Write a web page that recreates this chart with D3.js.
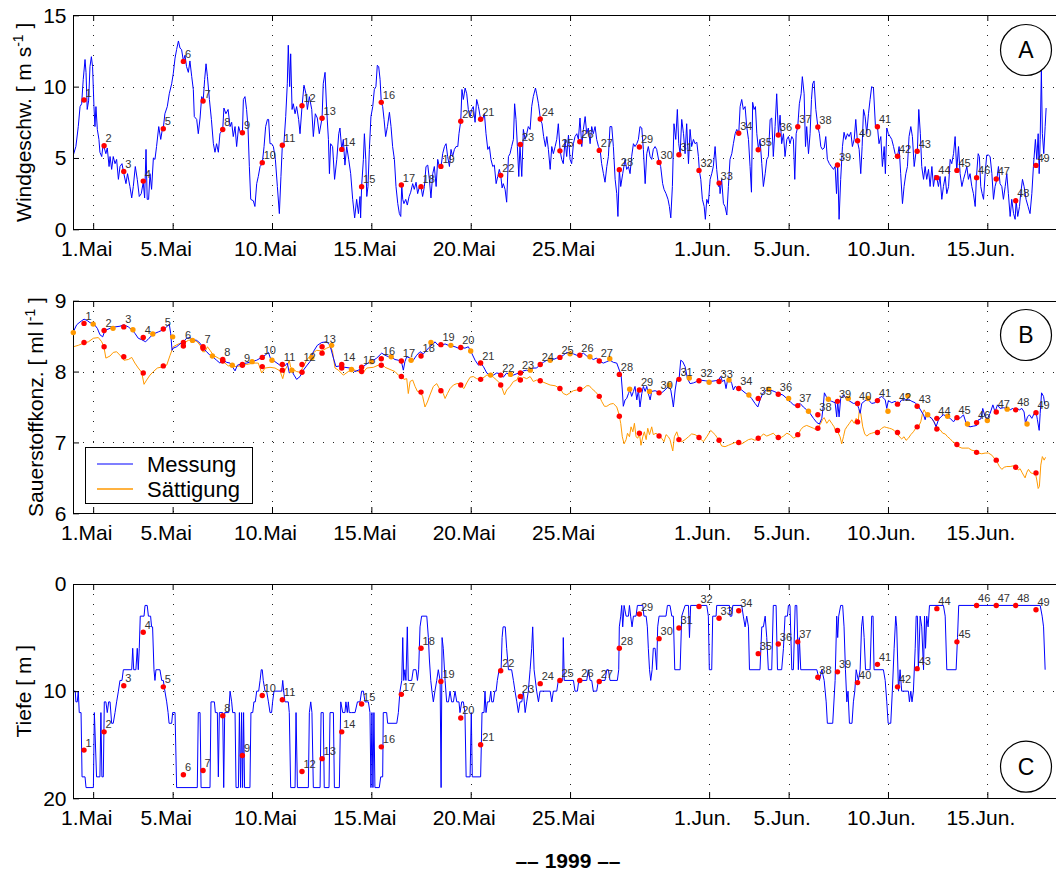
<!DOCTYPE html>
<html><head><meta charset="utf-8">
<script src="https://cdn.jsdelivr.net/npm/d3@7"></script>
<style>body{margin:0;background:#fff;} svg{display:block;}</style>
</head><body><svg id="chart" width="1056" height="872"></svg>
<script>
// ---------- DATA (time in days since 30 Apr 1999 00:00) ----------
const xTickDays = [1,5,10,15,20,25,32,36,41,46];
const xTickLabels = ["1.Mai","5.Mai","10.Mai","15.Mai","20.Mai","25.Mai","1.Jun.","5.Jun.","10.Jun.","15.Jun."];
const yTicksA = [0,5,10,15];
const yTicksB = [6,7,8,9];
const yTicksC = [0,10,20];
const seriesNames = ["Messung","Sättigung"];

const stationIds = [1,2,3,4,5,6,7,8,9,10,11,12,13,14,15,16,17,18,19,20,21,22,23,24,25,26,27,28,29,30,31,32,33,34,35,36,37,38,39,40,41,42,43,44,45,46,47,48,49];
const stationDays = [0.54,1.55,2.54,3.52,4.53,5.54,6.53,7.52,8.51,9.51,10.52,11.51,12.52,13.51,14.51,15.50,16.51,17.50,18.50,19.50,20.50,21.51,22.50,23.50,24.49,25.49,26.47,27.48,28.49,29.48,30.48,31.49,32.50,33.49,34.47,35.48,36.46,37.47,38.46,39.47,40.47,41.48,42.47,43.46,44.47,45.46,46.45,47.43,48.45];
const stationWind = [9.06,5.86,4.06,3.38,7.05,11.77,8.99,7.0,6.77,4.67,5.89,8.66,7.78,5.6,2.99,8.9,3.1,2.99,4.41,7.57,7.71,3.78,5.94,7.73,5.5,6.14,5.53,4.18,5.77,4.69,5.23,4.13,3.24,6.73,5.58,6.61,7.19,7.17,4.51,6.21,7.19,5.12,5.47,3.62,4.13,3.62,3.53,2.0,4.48];
const stationO2Mess = [8.68,8.58,8.63,8.48,8.6,8.41,8.35,8.17,8.09,8.2,8.1,8.1,8.35,8.1,8.06,8.18,8.15,8.22,8.38,8.34,8.12,7.95,7.98,8.1,8.2,8.23,8.15,7.96,7.74,7.7,7.89,7.87,7.86,7.76,7.62,7.68,7.52,7.39,7.58,7.55,7.59,7.54,7.51,7.34,7.35,7.28,7.43,7.46,7.42];
const stationO2Sat = [8.41,8.35,8.21,7.98,8.08,8.36,8.33,8.15,8.1,8.07,8.02,7.99,8.26,8.05,8.0,8.09,7.93,7.71,7.73,7.81,7.89,7.81,7.88,7.87,7.76,7.75,7.65,7.37,7.13,7.09,7.04,7.07,7.03,7.0,7.06,7.07,7.11,7.2,7.17,7.29,7.14,7.14,7.22,7.19,6.97,6.86,6.75,6.65,6.57];
const stationDepth = [15.5,13.8,9.5,4.5,9.6,17.8,17.4,12.3,16.0,10.4,10.8,17.5,16.3,13.8,11.2,15.2,10.3,6.0,9.1,12.5,15.0,8.1,10.5,9.3,9.0,9.0,9.1,6.0,2.8,5.1,4.1,2.1,3.2,2.5,6.5,5.6,5.4,8.7,8.2,9.2,7.5,9.6,7.9,2.3,5.4,2.0,2.0,2.0,2.4];

const castDays = [0,1,2,3,4,5,6,7,8,9,10,11,12,13,14,15,16,17,18,19,20,21,22,23,24,25,26,27,28,29,30,31,32,33,34,35,36,37,38,39,40,41,42,43,44,45,46,47,48];
const castO2 = [8.55,8.67,8.61,8.59,8.53,8.49,8.44,8.22,8.09,8.14,8.16,8.02,8.2,8.37,8.03,8.14,8.21,8.16,8.41,8.37,8.29,7.95,7.96,8.02,8.16,8.25,8.21,8.18,7.75,7.72,7.81,7.91,7.85,7.88,7.67,7.75,7.62,7.44,7.61,7.62,7.62,7.44,7.66,7.39,7.37,7.26,7.31,7.47,7.26];

const wind = [[0,5.2],[0.13,5.8],[0.25,7.2],[0.34,8.6],[0.42,8.8],[0.5,10.5],[0.59,11.9],[0.64,11],[0.7,8.4],[0.77,9],[0.84,11.4],[0.91,12.1],[0.97,11.4],[1.04,8.6],[1.09,7.2],[1.14,8.6],[1.21,7],[1.29,6.3],[1.34,5.4],[1.43,5.1],[1.48,5.7],[1.54,5.8],[1.64,5.3],[1.71,5.7],[1.8,4.4],[1.85,5.1],[1.93,4.2],[2.01,5.1],[2.1,4.6],[2.18,4.9],[2.27,3.5],[2.35,4.4],[2.45,4.6],[2.53,4],[2.65,3.2],[2.73,3.9],[2.85,3],[2.94,2.2],[3.02,3],[3.12,4.4],[3.22,3.5],[3.32,2.3],[3.42,2.5],[3.52,3.3],[3.59,2.2],[3.66,5.6],[3.72,2.1],[3.79,2.1],[3.86,3.9],[3.94,2.8],[4.03,5],[4.11,4.9],[4.19,5.8],[4.3,7.2],[4.4,6.3],[4.48,7],[4.53,7.1],[4.61,8.1],[4.73,8.6],[4.83,9.5],[4.95,10.2],[5.03,10.9],[5.12,12],[5.2,12.6],[5.29,13.2],[5.37,12.7],[5.45,12.6],[5.54,11.8],[5.62,12.2],[5.7,11.4],[5.79,11],[5.87,11.8],[5.96,10.7],[6.04,9.8],[6.09,7.9],[6.21,7.7],[6.29,6.7],[6.38,7.8],[6.46,9.3],[6.54,9.1],[6.61,10.5],[6.68,11.6],[6.75,10.7],[6.85,9.1],[6.95,7.7],[7.05,6],[7.13,5.4],[7.21,6],[7.3,5.4],[7.38,6.7],[7.52,7],[7.58,8.5],[7.68,8.1],[7.79,8.4],[7.89,7.2],[7.97,7.5],[8.05,6.5],[8.14,7.2],[8.22,5.8],[8.32,7.2],[8.42,6.7],[8.51,6.7],[8.56,9.1],[8.64,9.3],[8.72,8.4],[8.79,7.2],[8.86,4.4],[8.93,2.1],[9.06,2],[9.14,1.6],[9.23,3.2],[9.31,3.7],[9.4,4.4],[9.51,4.6],[9.6,5.8],[9.68,7.2],[9.77,7.7],[9.83,7.7],[9.9,6],[9.98,6],[10.07,5.8],[10.17,4.9],[10.27,3],[10.37,1.1],[10.45,3.7],[10.52,5.9],[10.6,6],[10.69,7.9],[10.77,10.2],[10.82,12.9],[10.89,10],[10.94,12.3],[11.01,8.4],[11.07,8.8],[11.16,8.1],[11.24,8.6],[11.34,7.7],[11.41,6.7],[11.51,8.6],[11.61,10.1],[11.71,9.5],[11.78,8.4],[11.88,9.3],[12,8.4],[12.08,6.5],[12.18,8.1],[12.28,7.8],[12.38,6.7],[12.52,7.8],[12.58,10.2],[12.67,11],[12.75,8.4],[12.84,6.3],[12.89,3.9],[12.95,6],[13.05,5.8],[13.15,3.5],[13.26,4.9],[13.36,6.7],[13.42,7.1],[13.51,5.6],[13.59,6.3],[13.67,4.5],[13.76,5.8],[13.86,4.9],[13.96,3.9],[14.06,2.1],[14.16,0.8],[14.26,2.1],[14.35,1.1],[14.43,2.3],[14.46,0.8],[14.51,3],[14.6,4.9],[14.65,6.7],[14.72,4.9],[14.77,2.3],[14.83,3],[14.9,5.6],[14.98,7.9],[15.07,8.6],[15.15,9.8],[15.23,10],[15.3,11.5],[15.37,11.4],[15.44,10.5],[15.5,8.9],[15.57,8.6],[15.64,7.7],[15.72,6.5],[15.81,7.2],[15.91,8.2],[15.99,7.2],[16.07,5.8],[16.16,4.9],[16.24,3],[16.33,1.8],[16.41,1.1],[16.48,0.9],[16.53,3.1],[16.58,2.1],[16.64,1.8],[16.73,2.1],[16.81,1.7],[16.9,2.3],[16.98,2.6],[17.08,3.2],[17.16,2.8],[17.25,3.3],[17.33,2.5],[17.42,3],[17.5,3],[17.58,2.3],[17.67,3],[17.75,4.4],[17.84,4.5],[17.92,3.5],[18,2.2],[18.09,3.9],[18.17,4.4],[18.26,3],[18.34,4.9],[18.42,4.4],[18.51,4.4],[18.59,5.3],[18.68,5.8],[18.76,6],[18.84,5.1],[18.93,4.4],[19.01,5.6],[19.09,5.1],[19.18,5.6],[19.26,5.8],[19.35,5.8],[19.41,6.7],[19.5,7.6],[19.56,9.8],[19.63,9.1],[19.72,9.9],[19.8,9.5],[19.88,8.4],[19.97,7.9],[20.05,8.4],[20.13,8.6],[20.22,7.5],[20.3,9.1],[20.39,8.6],[20.5,7.7],[20.6,7.7],[20.69,8.1],[20.77,6.7],[20.86,5.6],[20.94,5.8],[21.02,4.9],[21.11,4.4],[21.19,4.5],[21.28,3.2],[21.36,3.7],[21.44,4.2],[21.51,3.8],[21.58,2.9],[21.64,3.2],[21.73,2.8],[21.81,1.9],[21.9,5.1],[21.98,5.3],[22.06,5.8],[22.15,6.3],[22.21,8.8],[22.28,7.7],[22.35,5.8],[22.42,3.7],[22.48,5.9],[22.57,3.7],[22.65,7],[22.74,6.3],[22.82,6.7],[22.9,7.2],[22.99,7],[23.07,8.6],[23.15,9.3],[23.26,9.9],[23.32,9.5],[23.41,8.8],[23.51,7.7],[23.59,7.4],[23.67,6.5],[23.76,5.8],[23.83,6.5],[23.91,5.6],[24,4.2],[24.08,5.8],[24.16,5.3],[24.25,5.8],[24.33,6.3],[24.41,7.4],[24.5,5.5],[24.58,4.9],[24.66,4.6],[24.75,6.3],[24.83,5.1],[24.92,6.6],[25,4.9],[25.08,4.6],[25.17,6],[25.25,6.5],[25.34,6.7],[25.42,6.3],[25.5,7.8],[25.59,5.8],[25.67,7],[25.76,7.9],[25.84,6.7],[25.92,7.1],[26.01,6],[26.09,7.2],[26.17,6.7],[26.26,7.2],[26.34,6.3],[26.43,5.8],[26.51,5.6],[26.59,4.6],[26.68,3.9],[26.76,3.3],[26.85,4.4],[26.93,5.1],[27.01,7.2],[27.1,7.2],[27.18,5.8],[27.27,3.5],[27.35,2.5],[27.41,0.9],[27.48,4.2],[27.55,3],[27.65,3.9],[27.77,4.9],[27.85,4.2],[27.94,4.4],[28.02,3.9],[28.1,5.1],[28.19,6],[28.27,5.8],[28.36,6],[28.44,6.3],[28.52,7.2],[28.61,7.1],[28.69,5.6],[28.78,3.2],[28.86,5.3],[28.94,5.8],[29.03,5.1],[29.11,4.9],[29.19,5.6],[29.28,5.8],[29.36,5.6],[29.48,4.7],[29.56,4.4],[29.66,3.2],[29.73,2.8],[29.83,2.5],[29.93,2.1],[30,1.6],[30.07,0.8],[30.15,3],[30.23,7.4],[30.32,6.3],[30.4,8.4],[30.47,6],[30.54,5.3],[30.62,7.7],[30.71,6.7],[30.79,5.3],[30.87,7.4],[30.96,4.6],[31.04,7],[31.12,5.8],[31.21,6.3],[31.29,6],[31.38,6.1],[31.46,5.1],[31.51,4.1],[31.58,3.5],[31.66,2.1],[31.75,1.6],[31.81,0.7],[31.88,2.1],[31.96,1.8],[32.05,3.5],[32.13,3.9],[32.21,4.4],[32.3,5.8],[32.38,4.2],[32.47,3],[32.52,3.2],[32.55,2.5],[32.63,3.5],[32.72,1.8],[32.8,1.6],[32.89,1],[32.97,3],[33.05,4.9],[33.14,5.3],[33.22,6],[33.31,6.7],[33.39,7],[33.49,6.7],[33.56,8.6],[33.64,9.1],[33.72,8.4],[33.81,8.6],[33.89,7.2],[33.98,6.3],[34.06,4.4],[34.13,2.6],[34.19,8.9],[34.26,8.4],[34.33,8.6],[34.4,6.7],[34.48,5.6],[34.56,6.3],[34.65,4.6],[34.73,3],[34.82,3.9],[34.9,4.9],[34.98,5.1],[35.07,7.7],[35.15,7.8],[35.23,5.1],[35.32,7.2],[35.4,9.5],[35.49,6.6],[35.57,8],[35.65,6],[35.74,6.7],[35.82,5.1],[35.91,6.3],[35.99,6.5],[36.07,6],[36.16,6.5],[36.24,6.3],[36.31,3.5],[36.38,6.7],[36.46,7.2],[36.54,8.8],[36.63,9.5],[36.69,10.7],[36.78,9.5],[36.85,5.8],[36.91,7.2],[37,5.3],[37.08,6.7],[37.15,9.1],[37.21,10.2],[37.28,10.4],[37.37,8.4],[37.47,7.2],[37.55,6.7],[37.62,5.8],[37.7,5.6],[37.79,5.7],[37.87,6.5],[37.95,4.9],[38.05,4.6],[38.15,4.4],[38.26,4.2],[38.34,4.4],[38.41,2.5],[38.47,4.5],[38.54,0.7],[38.62,3.5],[38.71,5.8],[38.79,6.8],[38.87,6.3],[38.96,6.7],[39.04,6.5],[39.13,6.8],[39.21,5.8],[39.3,6.3],[39.38,7.7],[39.46,6.2],[39.55,5.6],[39.63,3.9],[39.7,5.8],[39.77,8.4],[39.85,7.9],[39.93,6.7],[40.02,8.1],[40.1,9.1],[40.18,10],[40.27,9.9],[40.37,7.2],[40.47,7.2],[40.55,6],[40.64,6.5],[40.72,4.4],[40.81,5.8],[40.87,3.9],[40.94,7.1],[41.02,6.7],[41.11,6.5],[41.19,6.3],[41.28,5.8],[41.36,5.3],[41.48,5.1],[41.56,5.8],[41.64,3.9],[41.73,1.8],[41.81,3],[41.9,3.9],[41.98,4.4],[42.06,6.5],[42.15,7.2],[42.23,6.5],[42.32,4.4],[42.4,5.3],[42.48,5.5],[42.55,8.4],[42.63,6.7],[42.7,4.4],[42.79,3.5],[42.87,4.4],[42.95,3.5],[43.04,4.2],[43.12,3],[43.21,4.4],[43.29,3],[43.37,3.8],[43.46,3.6],[43.54,3],[43.62,3.7],[43.71,2.1],[43.79,3],[43.88,3.7],[43.96,2.5],[44.05,3],[44.13,4.9],[44.21,4.6],[44.3,5.3],[44.38,6.5],[44.46,4.1],[44.55,5.8],[44.63,3.9],[44.72,3],[44.8,3.5],[44.88,3.9],[44.97,4.4],[45.05,3.5],[45.13,3.9],[45.22,3],[45.3,2.5],[45.39,1.6],[45.45,3.6],[45.54,5.3],[45.6,5.1],[45.67,3],[45.74,2.5],[45.81,2.1],[45.89,3.9],[45.97,5.2],[46.06,5.2],[46.14,5.1],[46.23,3.9],[46.31,2.1],[46.39,3],[46.48,3.5],[46.56,4.4],[46.64,3.2],[46.73,3],[46.81,2.1],[46.9,3],[46.98,3.9],[47.06,2.5],[47.15,0.9],[47.23,2.1],[47.32,1.1],[47.4,0.7],[47.45,2],[47.53,0.9],[47.62,1.6],[47.68,2.5],[47.77,3.5],[47.85,3],[47.95,2.1],[48.05,1.6],[48.15,1.1],[48.24,2.5],[48.32,4.4],[48.42,6.3],[48.49,4.9],[48.56,6.7],[48.61,3.9],[48.66,6.3],[48.72,11.2],[48.77,6.7],[48.84,5.3],[48.91,7.2],[48.96,8.5]];

const o2Mess = [[0,8.56],[0.17,8.66],[0.34,8.7],[0.54,8.74],[0.7,8.72],[0.84,8.69],[1.04,8.67],[1.21,8.61],[1.34,8.52],[1.48,8.49],[1.59,8.58],[1.85,8.61],[2.1,8.63],[2.35,8.64],[2.55,8.66],[2.77,8.63],[2.94,8.59],[3.1,8.54],[3.27,8.47],[3.44,8.45],[3.64,8.42],[3.81,8.47],[4.03,8.53],[4.28,8.56],[4.53,8.59],[4.7,8.63],[4.83,8.67],[4.9,8.54],[4.97,8.3],[5.03,8.33],[5.2,8.35],[5.37,8.39],[5.54,8.42],[5.7,8.47],[5.87,8.48],[6.04,8.45],[6.21,8.44],[6.38,8.4],[6.54,8.33],[6.71,8.28],[6.88,8.23],[7.05,8.2],[7.21,8.16],[7.38,8.12],[7.55,8.16],[7.72,8.13],[7.89,8.12],[8.05,8.05],[8.14,8.01],[8.26,8.09],[8.47,8.11],[8.72,8.12],[8.98,8.14],[9.23,8.16],[9.48,8.2],[9.65,8.23],[9.82,8.27],[9.93,8.18],[10.15,8.14],[10.4,8.09],[10.54,8.12],[10.65,8.08],[10.77,8.12],[10.87,7.98],[10.99,8.01],[11.11,7.95],[11.24,7.89],[11.41,7.93],[11.58,8.02],[11.74,8.08],[11.91,8.14],[12.08,8.28],[12.28,8.37],[12.5,8.41],[12.75,8.42],[12.92,8.37],[13.09,8.19],[13.22,8.07],[13.42,8.08],[13.67,8.06],[13.93,8.05],[14.18,8],[14.43,8.03],[14.68,8.09],[14.93,8.14],[15.1,8.16],[15.27,8.19],[15.52,8.26],[15.69,8.23],[15.86,8.21],[16.02,8.2],[16.19,8.17],[16.36,8.16],[16.53,8.12],[16.61,8.02],[16.69,8.14],[16.78,8.21],[16.95,8.19],[17.11,8.16],[17.28,8.23],[17.45,8.28],[17.62,8.25],[17.75,8.29],[17.87,8.33],[17.99,8.36],[18.12,8.39],[18.2,8.42],[18.37,8.37],[18.54,8.37],[18.71,8.39],[18.88,8.37],[19.04,8.36],[19.21,8.35],[19.38,8.33],[19.55,8.34],[19.71,8.33],[19.88,8.35],[20.05,8.26],[20.22,8.16],[20.39,8.09],[20.5,8.12],[20.64,8.07],[20.81,7.98],[20.97,7.95],[21.14,7.95],[21.31,7.98],[21.48,7.97],[21.64,7.92],[21.81,7.98],[21.98,7.95],[22.15,7.95],[22.32,7.97],[22.48,7.98],[22.65,8.01],[22.82,8.02],[22.99,8],[23.15,8.05],[23.32,8.05],[23.49,8.1],[23.66,8.13],[23.83,8.16],[24,8.16],[24.16,8.17],[24.33,8.19],[24.5,8.2],[24.66,8.23],[24.83,8.27],[25,8.26],[25.17,8.25],[25.34,8.23],[25.5,8.23],[25.67,8.26],[25.84,8.22],[26.01,8.2],[26.17,8.17],[26.34,8.19],[26.51,8.14],[26.68,8.12],[26.85,8.14],[27.01,8.16],[27.18,8.13],[27.35,8.12],[27.48,8.02],[27.57,7.95],[27.63,7.74],[27.68,7.51],[27.77,7.6],[27.85,7.62],[27.94,7.69],[28.02,7.74],[28.1,7.65],[28.19,7.72],[28.27,7.79],[28.36,7.6],[28.44,7.74],[28.52,7.5],[28.61,7.69],[28.69,7.79],[28.78,7.72],[28.86,7.79],[28.94,7.69],[29.03,7.6],[29.11,7.72],[29.28,7.73],[29.45,7.71],[29.61,7.7],[29.78,7.74],[29.95,7.79],[30.07,7.74],[30.15,7.6],[30.2,7.5],[30.29,7.74],[30.37,7.88],[30.49,7.9],[30.57,8.16],[30.67,8.14],[30.79,8.07],[30.91,7.9],[31.04,7.83],[31.21,7.84],[31.38,7.86],[31.54,7.88],[31.8,7.87],[32.05,7.86],[32.3,7.87],[32.47,7.88],[32.58,7.93],[32.67,7.86],[32.77,7.88],[32.85,7.76],[32.94,7.9],[33.05,7.88],[33.14,7.83],[33.22,7.74],[33.31,7.79],[33.47,7.76],[33.64,7.74],[33.81,7.7],[33.98,7.67],[34.14,7.62],[34.31,7.55],[34.45,7.5],[34.56,7.6],[34.7,7.69],[34.87,7.74],[35.07,7.74],[35.27,7.72],[35.49,7.69],[35.71,7.67],[35.91,7.62],[36.07,7.58],[36.24,7.53],[36.41,7.52],[36.58,7.55],[36.74,7.5],[36.91,7.46],[37.08,7.41],[37.25,7.34],[37.42,7.28],[37.55,7.26],[37.67,7.34],[37.75,7.53],[37.8,7.7],[37.89,7.65],[38,7.6],[38.17,7.58],[38.34,7.56],[38.42,7.36],[38.47,7.58],[38.54,7.36],[38.62,7.62],[38.76,7.67],[38.93,7.61],[39.09,7.58],[39.26,7.55],[39.43,7.56],[39.53,7.48],[39.6,7.41],[39.68,7.55],[39.85,7.59],[40.02,7.6],[40.18,7.55],[40.35,7.56],[40.52,7.62],[40.69,7.65],[40.86,7.6],[40.94,7.48],[41.02,7.59],[41.19,7.56],[41.36,7.58],[41.53,7.54],[41.69,7.6],[41.86,7.6],[42.03,7.61],[42.2,7.58],[42.37,7.56],[42.53,7.51],[42.7,7.43],[42.79,7.39],[42.87,7.32],[42.95,7.41],[43.09,7.36],[43.2,7.34],[43.32,7.29],[43.42,7.22],[43.54,7.32],[43.66,7.36],[43.79,7.39],[43.96,7.37],[44.13,7.34],[44.3,7.29],[44.46,7.36],[44.63,7.34],[44.8,7.39],[44.97,7.24],[45.13,7.22],[45.3,7.23],[45.47,7.24],[45.55,7.32],[45.67,7.33],[45.77,7.48],[45.89,7.36],[46.01,7.34],[46.14,7.41],[46.28,7.53],[46.39,7.43],[46.51,7.53],[46.64,7.48],[46.81,7.49],[46.98,7.48],[47.15,7.46],[47.28,7.48],[47.4,7.43],[47.48,7.48],[47.62,7.46],[47.74,7.48],[47.85,7.43],[47.92,7.27],[48.02,7.36],[48.12,7.39],[48.24,7.34],[48.36,7.41],[48.46,7.42],[48.52,7.32],[48.61,7.17],[48.66,7.41],[48.73,7.7],[48.83,7.65],[48.89,7.54]];

const o2Sat = [[0,8.35],[0.25,8.37],[0.5,8.4],[0.76,8.42],[1.01,8.47],[1.26,8.48],[1.43,8.42],[1.54,8.35],[1.64,8.19],[1.85,8.22],[2.01,8.27],[2.18,8.28],[2.35,8.23],[2.55,8.16],[2.77,8.17],[2.94,8.2],[3.1,8.12],[3.27,8.05],[3.44,7.99],[3.56,7.82],[3.69,7.88],[3.86,7.95],[4.03,8],[4.23,8.05],[4.53,8.07],[4.7,8.09],[4.87,8.23],[5.03,8.35],[5.29,8.39],[5.54,8.4],[5.79,8.44],[6.04,8.45],[6.24,8.42],[6.38,8.37],[6.51,8.28],[6.63,8.28],[6.75,8.35],[6.88,8.3],[7.05,8.23],[7.3,8.19],[7.47,8.16],[7.63,8.12],[7.8,8.08],[7.97,8.09],[8.14,8.07],[8.39,8.08],[8.72,8.1],[9.06,8.12],[9.31,8.12],[9.48,7.98],[9.65,8.05],[9.9,8.06],[10.15,8.05],[10.4,8.01],[10.54,7.9],[10.65,8.02],[10.77,8.08],[10.87,8.16],[10.94,8.06],[11.07,8.03],[11.24,8],[11.41,7.99],[11.58,8.07],[11.74,8.16],[12,8.25],[12.25,8.3],[12.5,8.29],[12.75,8.33],[12.92,8.35],[13.04,8.3],[13.17,8.05],[13.34,8.02],[13.59,7.95],[13.84,8],[14.09,8.03],[14.43,7.99],[14.54,7.97],[14.77,8.05],[15.1,8.06],[15.35,8.09],[15.52,8.11],[15.69,8.06],[15.94,8.03],[16.19,8],[16.36,7.95],[16.53,7.93],[16.64,7.89],[16.78,7.9],[16.86,7.69],[16.95,7.86],[17.08,7.88],[17.2,7.79],[17.32,7.72],[17.45,7.72],[17.58,7.65],[17.7,7.5],[17.82,7.57],[17.95,7.67],[18.12,7.79],[18.29,7.83],[18.46,7.74],[18.54,7.76],[18.62,7.69],[18.71,7.62],[18.83,7.69],[18.96,7.76],[19.13,7.81],[19.3,7.83],[19.41,7.83],[19.5,7.8],[19.66,7.76],[19.8,7.84],[19.97,7.92],[20.13,7.93],[20.3,7.9],[20.5,7.89],[20.67,7.92],[20.81,7.95],[21.01,7.95],[21.14,7.92],[21.31,7.88],[21.48,7.83],[21.56,7.78],[21.7,7.67],[21.81,7.74],[21.98,7.79],[22.15,7.86],[22.32,7.88],[22.4,7.93],[22.52,7.88],[22.65,7.92],[22.82,7.9],[22.99,7.93],[23.15,7.86],[23.32,7.88],[23.49,7.87],[23.74,7.84],[24,7.81],[24.25,7.8],[24.5,7.76],[24.66,7.69],[24.83,7.67],[25,7.7],[25.17,7.73],[25.34,7.74],[25.5,7.75],[25.67,7.76],[25.84,7.8],[25.97,7.8],[26.09,7.76],[26.26,7.72],[26.48,7.65],[26.59,7.58],[26.73,7.51],[26.85,7.51],[27.01,7.54],[27.18,7.55],[27.35,7.5],[27.43,7.43],[27.48,7.37],[27.55,7.27],[27.63,7.08],[27.72,6.98],[27.82,7.04],[27.89,7.13],[27.99,7.08],[28.07,7.22],[28.16,7.15],[28.24,7.27],[28.32,7.08],[28.41,7.06],[28.49,7.13],[28.57,6.96],[28.66,7.08],[28.74,7.15],[28.83,7.04],[28.91,7.2],[29,7.11],[29.11,7.22],[29.19,7.11],[29.33,7.13],[29.48,7.09],[29.61,7.06],[29.73,7.01],[29.83,7.11],[29.95,7.08],[30.03,7.04],[30.17,6.88],[30.25,7.08],[30.37,7.15],[30.49,7.04],[30.62,7.01],[30.79,7.04],[30.96,7.08],[31.12,7.12],[31.29,7.11],[31.46,7.08],[31.71,7.01],[31.88,7.08],[32.08,7.17],[32.3,7.11],[32.47,7.04],[32.63,6.95],[32.8,6.94],[32.97,6.96],[33.14,6.98],[33.31,7],[33.47,6.99],[33.64,6.98],[33.81,7.01],[33.98,7.04],[34.14,7.05],[34.31,7.03],[34.48,7.06],[34.6,7.08],[34.73,7.12],[34.9,7.09],[35.07,7.11],[35.23,7.13],[35.4,7.08],[35.57,7.06],[35.74,7.09],[35.91,7.13],[36.07,7.11],[36.24,7.06],[36.38,7.08],[36.49,7.12],[36.61,7.18],[36.74,7.22],[36.91,7.24],[37.08,7.22],[37.25,7.2],[37.38,7.18],[37.5,7.22],[37.62,7.27],[37.7,7.32],[37.79,7.35],[37.92,7.27],[38.05,7.32],[38.17,7.27],[38.29,7.22],[38.39,7.14],[38.47,7.15],[38.59,7.08],[38.67,6.98],[38.76,7.08],[38.84,7.18],[38.93,7.22],[39.06,7.27],[39.18,7.32],[39.3,7.27],[39.4,7.34],[39.5,7.29],[39.56,7.46],[39.63,7.41],[39.73,7.22],[39.83,7.12],[39.93,7.09],[40.07,7.12],[40.18,7.13],[40.3,7.14],[40.44,7.15],[40.57,7.17],[40.69,7.2],[40.81,7.22],[40.94,7.21],[41.07,7.2],[41.19,7.19],[41.31,7.17],[41.44,7.13],[41.58,7.08],[41.69,7.05],[41.81,7.08],[41.91,7.03],[42.03,7.06],[42.15,7.11],[42.28,7.15],[42.42,7.21],[42.53,7.22],[42.65,7.29],[42.74,7.41],[42.82,7.46],[42.92,7.41],[43.02,7.39],[43.12,7.36],[43.25,7.32],[43.37,7.26],[43.49,7.2],[43.62,7.18],[43.76,7.13],[43.88,7.12],[44,7.08],[44.13,7.05],[44.26,7.01],[44.38,6.99],[44.55,6.94],[44.72,6.92],[44.88,6.92],[45.05,6.92],[45.22,6.89],[45.39,6.88],[45.55,6.85],[45.72,6.84],[45.89,6.85],[46.06,6.85],[46.23,6.82],[46.34,6.78],[46.48,6.73],[46.61,6.66],[46.73,6.62],[46.85,6.65],[46.98,6.66],[47.15,6.66],[47.32,6.67],[47.45,6.65],[47.57,6.61],[47.65,6.63],[47.74,6.58],[47.82,6.54],[47.9,6.5],[47.99,6.58],[48.07,6.62],[48.19,6.57],[48.32,6.56],[48.41,6.58],[48.49,6.47],[48.56,6.35],[48.62,6.38],[48.69,6.68],[48.77,6.8],[48.86,6.75],[48.93,6.79]];

const depth = [[0,10],[0.1,10],[0.13,11],[0.2,11],[0.25,10],[0.3,12],[0.39,12],[0.44,18],[0.59,18],[0.64,19],[1.01,19],[1.06,12],[1.17,18],[1.34,18],[1.39,12],[1.44,18],[1.51,18],[1.56,11],[1.64,11],[1.71,12],[1.78,11],[1.85,11],[1.93,13],[2.01,13],[2.1,12],[2.18,11],[2.27,10],[2.35,9],[2.45,9],[2.52,8],[2.94,8],[2.99,6],[3.04,8],[3.15,8],[3.22,6],[3.27,8],[3.32,6],[3.37,3],[3.56,3],[3.61,2],[3.72,2],[3.78,3],[3.89,3],[3.94,4],[3.99,4],[4.06,8],[4.11,9],[4.16,8],[4.36,8],[4.45,9],[4.53,9],[4.61,10],[4.7,11],[4.77,12],[4.82,13],[4.95,13],[5,12],[5.12,12],[5.2,19],[6.24,19],[6.29,12],[6.38,12],[6.43,19],[6.88,19],[6.93,11],[7.1,11],[7.15,12],[7.25,12],[7.3,18],[7.35,12],[7.52,12],[7.57,19],[7.62,12],[7.82,12],[7.89,10],[7.97,11],[8.02,12],[8.14,12],[8.19,19],[8.31,19],[8.36,12],[8.42,19],[8.47,12],[8.52,19],[8.57,12],[8.62,19],[8.89,19],[8.94,12],[9.03,12],[9.09,11],[9.16,11],[9.23,10],[9.33,10],[9.4,9],[9.46,8],[9.51,8],[9.56,9],[9.65,10],[9.73,10],[9.82,11],[9.9,12],[9.98,12],[10.03,11],[10.1,10],[10.49,10],[10.54,9],[10.59,10],[10.65,11],[10.82,11],[10.87,12],[10.94,19],[11.16,19],[11.21,12],[11.28,19],[11.83,19],[11.88,12],[11.95,11],[12.01,12],[12.08,19],[12.42,19],[12.47,12],[12.58,12],[12.63,19],[12.87,19],[12.92,12],[13.09,12],[13.14,19],[13.39,19],[13.46,11],[13.56,12],[13.67,12],[13.72,11],[13.79,12],[13.84,11],[13.89,12],[14.01,12],[14.18,12],[14.3,11],[14.43,11],[14.51,10],[14.6,10],[14.68,11],[14.85,11],[14.93,12],[14.98,19],[15.03,12],[15.08,19],[15.13,12],[15.18,19],[15.4,19],[15.47,18],[15.57,18],[15.6,12],[15.77,12],[15.82,13],[16.28,13],[16.36,12],[16.44,10],[16.53,9],[16.58,5],[16.63,9],[16.69,8],[16.74,9],[16.81,4],[16.86,9],[17.03,9],[17.11,8],[17.25,8],[17.32,9],[17.38,8],[17.45,4],[17.53,3],[17.79,3],[17.87,5],[17.92,7],[17.99,9],[18.05,10],[18.12,11],[18.2,10],[18.29,9],[18.37,8],[18.46,9],[18.51,19],[18.56,5],[18.62,6],[18.71,9],[18.79,11],[18.88,11],[18.96,10],[19.04,11],[19.13,11],[19.21,10],[19.3,11],[19.41,11],[19.46,12],[19.55,11],[19.63,11],[19.71,12],[19.77,18],[19.97,18],[20.03,12],[20.08,18],[20.5,18],[20.57,12],[20.67,12],[20.72,10],[20.77,12],[20.84,11],[20.94,11],[21.01,10],[21.06,11],[21.14,11],[21.21,10],[21.28,10],[21.34,9],[21.43,8],[21.53,8],[21.58,5],[21.63,4],[21.74,4],[21.81,6],[21.9,8],[22.06,8],[22.15,9],[22.23,10],[22.32,11],[22.4,12],[22.48,11],[22.57,11],[22.65,10],[22.74,12],[22.82,11],[22.9,10],[22.99,8],[23.07,6],[23.12,4],[23.19,8],[23.32,10],[23.41,11],[23.49,10],[24,10],[24.08,11],[24.16,10],[24.33,10],[24.41,9],[24.63,9],[24.66,5],[24.71,9],[25.17,9],[25.25,10],[25.37,10],[25.44,9],[25.84,9],[25.92,8],[26.01,9],[26.09,9],[26.17,10],[26.34,10],[26.43,9],[26.76,9],[26.85,8],[26.93,8],[27.01,9],[27.38,9],[27.45,8],[27.48,4],[27.55,3],[27.6,2],[27.65,4],[27.72,2],[27.82,3],[27.94,3],[27.99,2],[28.05,3],[28.12,4],[28.19,3],[28.32,3],[28.39,2],[28.66,2],[28.72,3],[28.83,3],[28.89,4],[28.94,6],[29,8],[29.06,9],[29.13,8],[29.19,6],[29.28,6],[29.36,8],[29.41,4],[29.48,3],[29.83,3],[29.9,2],[30.03,2],[30.12,3],[30.2,3],[30.27,8],[30.54,8],[30.62,3],[30.79,2],[30.96,2],[31.01,5],[31.07,2],[31.88,2],[31.96,3],[32.01,8],[32.13,8],[32.18,3],[32.35,3],[32.38,2],[33.02,2],[33.05,3],[33.14,3],[33.19,2],[33.64,2],[33.72,3],[33.81,4],[33.89,3],[33.98,4],[34.03,8],[34.56,8],[34.65,4],[34.73,4],[34.82,3],[34.9,5],[34.98,8],[35.15,8],[35.23,2],[35.37,2],[35.44,8],[35.65,8],[35.74,6],[35.82,3],[35.94,3],[35.99,2],[36.07,2],[36.16,8],[36.24,8],[36.33,2],[36.41,2],[36.49,8],[36.54,5],[36.61,8],[37.42,8],[37.55,9],[37.67,8],[37.79,9],[37.89,11],[37.95,13],[38.22,13],[38.34,9],[38.42,3],[38.47,5],[38.52,3],[38.62,2],[38.72,2],[38.79,4],[38.86,8],[38.93,11],[38.99,10],[39.06,13],[39.19,13],[39.26,11],[39.33,10],[39.4,8],[39.51,9],[39.6,8],[39.67,4],[39.73,3],[39.8,5],[39.87,8],[40.1,8],[40.18,3],[40.25,3],[40.3,8],[40.77,8],[40.86,9],[40.94,11],[41.01,13],[41.14,13],[41.22,10],[41.31,6],[41.39,3],[41.44,4],[41.53,10],[41.61,8],[41.69,10],[42.03,10],[42.08,11],[42.15,10],[42.21,11],[42.28,10],[42.37,6],[42.42,3],[42.48,3],[42.53,8],[42.62,3],[42.7,4],[42.79,8],[42.84,3],[42.89,6],[42.95,3],[43.02,4],[43.09,2],[43.79,2],[43.88,3],[43.96,8],[44.43,8],[44.5,5],[44.56,2],[48.66,2],[48.76,3],[48.83,4],[48.91,8]];

// ---------- RENDERING ----------
const FONT = '"Liberation Sans", Arial, Helvetica, sans-serif';
const BLUE = "#0000ff", ORANGE = "#ff9900", RED = "#ff0000";
const svg = d3.select("#chart");

const x = d3.scaleLinear().domain([0, 50]).range([73.3, 1066.8]);
const yA = d3.scaleLinear().domain([0, 15]).range([229.3, 15.3]);
const yB = d3.scaleLinear().domain([6, 9]).range([513.3, 300.7]);
const yC = d3.scaleLinear().domain([0, 20]).range([584, 798.3]);

function panel(id, y, yTicks) {
  const r = y.range(), top = Math.min(r[0], r[1]), bottom = Math.max(r[0], r[1]);
  const [x0, x1] = x.range();
  svg.append("clipPath").attr("id", "clip" + id).append("rect")
    .attr("x", x0).attr("y", top).attr("width", x1 - x0).attr("height", bottom - top);
  const g = svg.append("g");
  const grid = g.append("g").attr("stroke", "#222").attr("stroke-width", 1)
    .attr("stroke-dasharray", "1,9").attr("shape-rendering", "crispEdges");
  grid.selectAll(".gx").data(xTickDays).join("line").attr("class", "gx")
    .attr("x1", d => Math.round(x(d)) + 0.5).attr("x2", d => Math.round(x(d)) + 0.5)
    .attr("y1", top).attr("y2", bottom);
  grid.selectAll(".gy").data(yTicks.filter(v => y(v) > top + 1 && y(v) < bottom - 1)).join("line").attr("class", "gy")
    .attr("x1", x0).attr("x2", x1)
    .attr("y1", d => Math.round(y(d)) + 0.5).attr("y2", d => Math.round(y(d)) + 0.5);
  const data = g.append("g").attr("clip-path", `url(#clip${id})`);
  return {g, data, top, bottom, x0, x1};
}

function axes(P, y, yTicks) {
  const g = P.g;
  g.append("rect").attr("x", Math.round(P.x0) + 0.5).attr("y", Math.round(P.top) + 0.5)
    .attr("width", P.x1 - P.x0).attr("height", Math.round(P.bottom) - Math.round(P.top))
    .attr("fill", "none").attr("stroke", "#000").attr("stroke-width", 1).attr("shape-rendering", "crispEdges");
  const ab = g.append("g").attr("transform", `translate(0,${Math.round(P.bottom)})`)
    .call(d3.axisBottom(x).tickValues(xTickDays).tickFormat((d, i) => xTickLabels[i])
      .tickSizeInner(-6).tickSizeOuter(0).tickPadding(12));
  ab.select(".domain").remove();
  ab.attr("font-family", FONT).attr("font-size", 21);
  ab.selectAll("text").attr("dx", -7).attr("fill", "#000");
  const at = g.append("g").attr("transform", `translate(0,${Math.round(P.top)})`)
    .call(d3.axisTop(x).tickValues(xTickDays).tickFormat("").tickSizeInner(-6).tickSizeOuter(0));
  at.select(".domain").remove();
  const al = g.append("g").attr("transform", `translate(${Math.round(P.x0)},0)`)
    .call(d3.axisLeft(y).tickValues(yTicks).tickFormat(d3.format("d")).tickSizeInner(-6).tickSizeOuter(0).tickPadding(6.5));
  al.select(".domain").remove();
  al.attr("font-family", FONT).attr("font-size", 21);
  al.selectAll("text").attr("fill", "#000");
}

function title(parts, tx, cy) {
  const t = svg.append("text").attr("transform", `translate(${tx},${cy}) rotate(-90)`)
    .attr("text-anchor", "middle").attr("font-family", FONT).attr("font-size", 21).attr("fill", "#000");
  t.append("tspan").text(parts[0]);
  if (parts.length > 1) {
    t.append("tspan").attr("dy", -8).attr("font-size", 14).text(parts[1]);
    t.append("tspan").attr("dy", 8).text(parts[2]);
  }
}

function badge(letter, cy) {
  svg.append("circle").attr("cx", 1026).attr("cy", cy).attr("r", 25.5)
    .attr("fill", "#fff").attr("stroke", "#000").attr("stroke-width", 1.2);
  svg.append("text").attr("x", 1026).attr("y", cy).attr("dy", "0.36em").attr("text-anchor", "middle")
    .attr("font-family", FONT).attr("font-size", 23).attr("fill", "#000").text(letter);
}

function lineOf(y) { return d3.line().x(d => x(d[0])).y(d => y(d[1])); }

function stationMarks(g, y, vals, withLabels) {
  g.append("g").selectAll("circle").data(stationDays).join("circle")
    .attr("cx", d => x(d)).attr("cy", (d, i) => y(vals[i])).attr("r", 2.7).attr("fill", RED);
  if (withLabels) {
    g.append("g").selectAll("text").data(stationIds).join("text")
      .attr("x", (d, i) => x(stationDays[i]) + 1.5).attr("y", (d, i) => y(vals[i]) - 3.5)
      .attr("font-family", FONT).attr("font-size", 11).attr("fill", "#333").text(d => d);
  }
}

// Panel A
const PA = panel("A", yA, yTicksA);
PA.data.append("path").datum(wind).attr("d", lineOf(yA)).attr("fill", "none").attr("stroke", BLUE).attr("stroke-width", 1);
axes(PA, yA, yTicksA);
stationMarks(svg, yA, stationWind, true);
title(["Windgeschw. [ m s", "-1", " ]"], 31, (PA.top + PA.bottom) / 2);
badge("A", 50);

// Panel B
const PB = panel("B", yB, yTicksB);
PB.data.append("path").datum(o2Sat).attr("d", lineOf(yB)).attr("fill", "none").attr("stroke", ORANGE).attr("stroke-width", 1);
PB.data.append("path").datum(o2Mess).attr("d", lineOf(yB)).attr("fill", "none").attr("stroke", BLUE).attr("stroke-width", 1);
axes(PB, yB, yTicksB);
svg.append("g").selectAll("circle").data(castDays).join("circle")
  .attr("cx", d => x(d)).attr("cy", (d, i) => yB(castO2[i])).attr("r", 2.7).attr("fill", ORANGE);
stationMarks(svg, yB, stationO2Sat, false);
stationMarks(svg, yB, stationO2Mess, true);
title(["Sauerstoffkonz. [ ml l", "-1", " ]"], 43, (PB.top + PB.bottom) / 2);
badge("B", 335);

// Legend
const lg = svg.append("g");
lg.append("rect").attr("x", 85.5).attr("y", 447.5).attr("width", 167).attr("height", 56)
  .attr("fill", "#fff").attr("stroke", "#000").attr("stroke-width", 1).attr("shape-rendering", "crispEdges");
const legendColors = [BLUE, ORANGE];
seriesNames.forEach((nm, i) => {
  const ly = 464 + i * 25;
  lg.append("line").attr("x1", 97).attr("x2", 133).attr("y1", ly).attr("y2", ly)
    .attr("stroke", legendColors[i]).attr("stroke-width", i ? 1.6 : 1.1);
  lg.append("text").attr("x", 147).attr("y", ly + 7.5).attr("font-family", FONT).attr("font-size", 22)
    .attr("fill", "#000").text(nm);
});

// Panel C
const PC = panel("C", yC, yTicksC);
PC.data.append("path").datum(depth).attr("d", lineOf(yC)).attr("fill", "none").attr("stroke", BLUE).attr("stroke-width", 1);
axes(PC, yC, yTicksC);
stationMarks(svg, yC, stationDepth, true);
title(["Tiefe [ m ]"], 31, (PC.top + PC.bottom) / 2);
badge("C", 766.7);

// x label
svg.append("text").attr("x", 568).attr("y", 868).attr("text-anchor", "middle")
  .attr("font-family", FONT).attr("font-size", 21).attr("font-weight", "bold").attr("fill", "#000")
  .text("–– 1999 ––");
</script>
</body></html>
